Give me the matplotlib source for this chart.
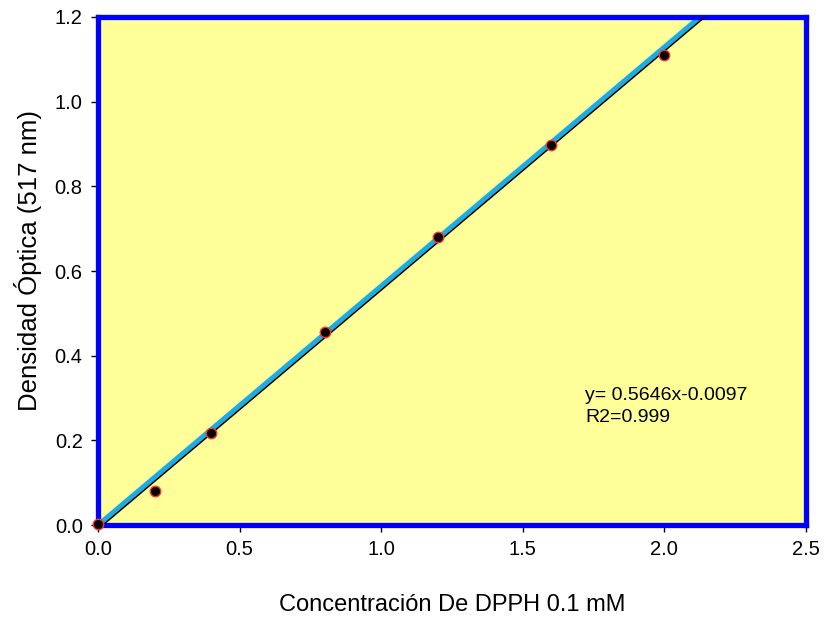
import numpy as np
import matplotlib.pyplot as plt

plt.rcParams['font.family'] = ['Liberation Sans', 'DejaVu Sans']

# DPPH calibration data
conc = [0.0, 0.2, 0.4, 0.8, 1.2, 1.6, 2.0]
absorb = [0.002, 0.080, 0.218, 0.457, 0.680, 0.898, 1.110]
slope = 0.5646
intercept = -0.0097

fig = plt.figure(figsize=(8.26, 6.2), dpi=100)
ax = fig.add_axes([0.1186, 0.1532, 0.8572, 0.8194])
ax.set_facecolor('#FFFF99')

xs = np.array([0.0, 2.5])
ax.plot(xs, slope * xs, color='#1AACE6', lw=3.5, zorder=2)
ax.plot(xs, slope * xs + intercept, color='black', lw=1.1, zorder=3)
ax.plot(conc, absorb, 'o', color='black', mec='#FF3030', mew=1.0, ms=7.5,
        zorder=4, clip_on=False)

ax.set_xlim(0, 2.5)
ax.set_ylim(0, 1.2)
ax.set_xticks(np.arange(0, 2.51, 0.5))
ax.set_yticks(np.arange(0, 1.21, 0.2))
ax.xaxis.set_major_formatter(plt.FormatStrFormatter('%.1f'))
ax.yaxis.set_major_formatter(plt.FormatStrFormatter('%.1f'))
ax.tick_params(labelsize=14.5, length=5, width=1, direction='out', pad=6)
for s in ax.spines.values():
    s.set_color('#0000FF')
    s.set_linewidth(3.8)

ax.text(1.72, 0.28, 'y= 0.5646x-0.0097\nR2=0.999', fontsize=14,
        va='center', ha='left', linespacing=1.45)

ax.set_xlabel('Concentración De DPPH 0.1 mM', fontsize=17)
ax.set_ylabel('Densidad Óptica (517 nm)', fontsize=18.5)
ax.xaxis.label.set_va('center')
ax.yaxis.label.set_va('center')
ax.xaxis.set_label_coords(0.5, -0.157)
ax.yaxis.set_label_coords(-0.099, 0.52)

fig.savefig('out.png', dpi=100)
plt.close(fig)
